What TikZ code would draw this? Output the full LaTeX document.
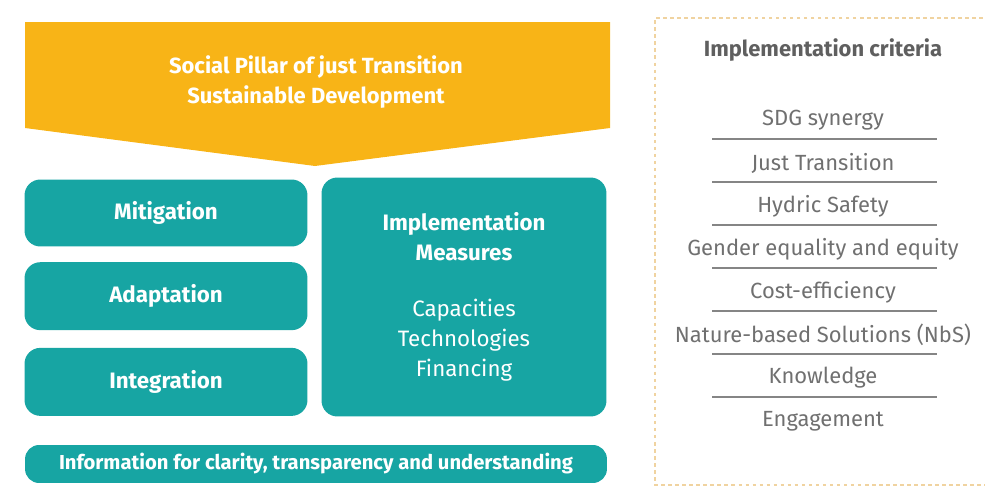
\documentclass[tikz,border=0pt]{standalone}
\usepackage{fontspec}
\setmainfont{Fira Sans}
\usetikzlibrary{positioning}

\definecolor{pillar}{HTML}{F8B417}
\definecolor{ndcteal}{HTML}{17A5A3}
\definecolor{critgray}{HTML}{707070}
\definecolor{dotframe}{HTML}{F0D3A0}

\tikzset{
  block/.style={fill=ndcteal, rounded corners=9pt, text=white, align=center,
    font=\bfseries\fontsize{12.7}{17}\selectfont, minimum width=5.66cm},
  crit/.style={text=critgray, font=\fontsize{12.5}{15}\selectfont},
  sep/.style={draw=critgray!85, line width=0.8pt}
}

\begin{document}
\begin{tikzpicture}[x=0.02cm, y=-0.02cm]
\useasboundingbox (0,0) rectangle (985,490);

% Pillar arrow
\fill[pillar] (25,22) -- (610,22) -- (610,128) -- (315,166) -- (25,128) -- cycle;
\node[text=white, font=\bfseries\fontsize{12.5}{17}\selectfont, align=center]
  (pillar) at (316,82) {Social Pillar of just Transition\\Sustainable Development};

% Define nodes
\node[block, minimum height=1.34cm]                  (mit) at (166,213) {Mitigation};
\node[block, minimum height=1.36cm, below=0.3cm of mit]  (ada) {Adaptation};
\node[block, minimum height=1.36cm, below=0.34cm of ada] (int) {Integration};
\node[block, minimum width=5.7cm, minimum height=4.78cm] (meas) at (464,297)
  {Implementation\\Measures\\[0.52cm]{\mdseries Capacities}\\{\mdseries Technologies}\\{\mdseries Financing}};
\node[block, minimum width=11.64cm, minimum height=0.76cm, rounded corners=8pt,
  font=\bfseries\fontsize{11.5}{13}\selectfont] (info) at (316,464)
  {Information for clarity, transparency and understanding};

% Criteria frame
\draw[dotframe, line width=1pt, dash pattern=on 2pt off 2pt]
  (990,18) -- (655,18) -- (655,485) -- (990,485);
\node[crit, text=critgray!85!black, font=\bfseries\fontsize{12.5}{15}\selectfont]
  (title) at (823,50) {Implementation criteria};

\foreach \lbl [count=\i] in {SDG synergy, Just Transition, Hydric Safety,
    Gender equality and equity, Cost-efficiency, Nature-based Solutions (NbS),
    Knowledge, Engagement}
  \node[crit] (c\i) at (823,{77+43*\i}) {\lbl};

% Separators
\foreach \i in {1,...,7}
  \draw[sep] (712,{96+43*\i}) -- (937,{96+43*\i});

\end{tikzpicture}
\end{document}
